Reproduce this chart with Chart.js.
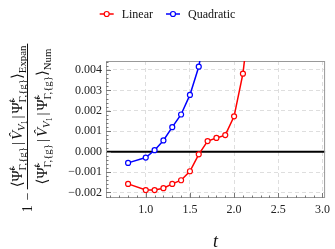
<!DOCTYPE html>
<html>
<head>
<meta charset="utf-8">
<script src="https://cdn.jsdelivr.net/npm/chart.js@4.4.1/dist/chart.umd.min.js"></script>
<style>
  html, body { margin: 0; padding: 0; background: #fff; }
  #wrap { width: 335px; height: 249px; }
</style>
</head>
<body>
<div id="wrap"><canvas id="chart"></canvas></div>
<script>
// values
var linearT = [0.8, 1.0, 1.1, 1.2, 1.3, 1.4, 1.5, 1.6, 1.7, 1.8, 1.9, 2.0, 2.1, 2.2];
var linearValues = [-0.00158, -0.00188, -0.00188, -0.00179, -0.00158, -0.0014, -0.00096,
                    -0.00013, 0.00052, 0.00067, 0.00081, 0.00173, 0.00382, 0.0075];
var quadraticT = [0.8, 1.0, 1.1, 1.2, 1.3, 1.4, 1.5, 1.6, 1.7];
var quadraticValues = [-0.00055, -0.00029, 0.00007, 0.00055, 0.0012, 0.00182, 0.00278, 0.00416, 0.0065];
var xTicks = [1.0, 1.5, 2.0, 2.5, 3.0];
var yTicks = [-0.002, -0.001, 0, 0.001, 0.002, 0.003, 0.004];
var xTitle = 't';

var serif = '"Liberation Serif", "DejaVu Serif", serif';

function toPoints(xs, ys) {
    return xs.map(function (x, i) { return { x: x, y: ys[i] }; });
}

// little helpers to draw text runs with sub/superscripts
function runFont(r) { return (r.italic ? 'italic ' : '') + r.size + 'px ' + serif; }
function runsWidth(ctx, runs) {
    var w = 0;
    runs.forEach(function (r) {
        if (r.stack) {
            var m = 0;
            r.stack.forEach(function (s) { ctx.font = runFont(s); m = Math.max(m, ctx.measureText(s.t).width); });
            w += m;
        } else if (r.gap) {
            w += r.gap;
        } else {
            ctx.font = runFont(r);
            w += ctx.measureText(r.t).width;
        }
    });
    return w;
}
function drawRuns(ctx, runs, x, y) {
    runs.forEach(function (r) {
        if (r.stack) {
            var m = 0;
            r.stack.forEach(function (s) {
                ctx.font = runFont(s);
                ctx.fillText(s.t, x, y + (s.dy || 0));
                m = Math.max(m, ctx.measureText(s.t).width);
            });
            x += m;
        } else if (r.gap) {
            x += r.gap;
        } else {
            ctx.font = runFont(r);
            ctx.fillText(r.t, x, y + (r.dy || 0));
            x += ctx.measureText(r.t).width;
        }
    });
}
function braKet(tail) {
    var M = 15, S = 10.8;
    var psi = [{ t: '\u03A8\u0303', size: M },
               { stack: [{ t: 't', size: S, italic: true, dy: -7 }, { t: '\u0393,{g}', size: S, dy: 4 }] }];
    return [{ t: '\u27E8', size: M }].concat(psi,
        [{ gap: 2 }, { t: '|', size: M }, { gap: 2 },
         { t: 'V\u0302', size: M, italic: true }, { t: 'V', size: S, italic: true, dy: 3 }, { t: '1', size: 7.5, dy: 5 },
         { gap: 2 }, { t: '|', size: M }, { gap: 2 }],
        psi, [{ t: '\u27E9', size: M }, { t: tail, size: S, dy: 4 }]);
}

var decorPlugin = {
    id: 'decor',
    beforeDatasetsDraw: function (chart) {
        var ctx = chart.ctx, a = chart.chartArea;
        var xs = chart.scales.x, ys = chart.scales.y;
        ctx.save();
        // zero line
        var y0 = ys.getPixelForValue(0);
        ctx.strokeStyle = '#000';
        ctx.lineWidth = 2;
        ctx.beginPath(); ctx.moveTo(a.left, y0); ctx.lineTo(a.right, y0); ctx.stroke();
        // frame
        ctx.strokeStyle = '#999';
        ctx.lineWidth = 1;
        ctx.strokeRect(a.left + 0.5, a.top + 0.5, a.right - a.left - 1, a.bottom - a.top - 1);
        // inward ticks
        ctx.strokeStyle = '#777';
        ctx.beginPath();
        for (var i = 6; i <= 30; i++) {
            var px = Math.round(xs.getPixelForValue(i / 10)) + 0.5;
            var len = (i % 5 === 0) ? 5 : 2.5;
            ctx.moveTo(px, a.bottom); ctx.lineTo(px, a.bottom - len);
        }
        for (var j = -11; j <= 22; j++) {
            var py = Math.round(ys.getPixelForValue(j * 0.0002)) + 0.5;
            var ln = (j % 5 === 0) ? 5 : 2.5;
            ctx.moveTo(a.left, py); ctx.lineTo(a.left + ln, py);
        }
        ctx.stroke();
        ctx.restore();
    },
    afterDraw: function (chart) {
        var ctx = chart.ctx, a = chart.chartArea;
        ctx.save();
        ctx.fillStyle = '#111';

        // legend
        var sets = chart.data.datasets;
        ctx.font = '12px ' + serif;
        var total = 0;
        sets.forEach(function (d, i) { total += 22 + ctx.measureText(d.label).width + (i ? 13 : 0); });
        var x = 167.5 - total / 2, y = 14;
        sets.forEach(function (d) {
            ctx.strokeStyle = d.borderColor;
            ctx.lineWidth = 1.5;
            ctx.beginPath(); ctx.moveTo(x, y); ctx.lineTo(x + 14, y); ctx.stroke();
            ctx.fillStyle = '#fff';
            ctx.lineWidth = 1.2;
            ctx.beginPath(); ctx.arc(x + 7, y, 2.5, 0, Math.PI * 2); ctx.fill(); ctx.stroke();
            ctx.fillStyle = '#111';
            ctx.font = '12px ' + serif;
            ctx.textBaseline = 'middle';
            ctx.fillText(d.label, x + 22, y + 1);
            x += 22 + ctx.measureText(d.label).width + 13;
        });

        // x-axis title
        ctx.font = 'italic 18px ' + serif;
        ctx.textAlign = 'center';
        ctx.textBaseline = 'alphabetic';
        ctx.fillText(xTitle, (a.left + a.right) / 2, 247);
        ctx.textAlign = 'left';

        // y-axis title, rotated fraction
        ctx.translate(27.5, 116.5);
        ctx.rotate(-Math.PI / 2);
        var num = braKet('Expan'), den = braKet('Num');
        var wn = runsWidth(ctx, num), wd = runsWidth(ctx, den);
        var half = Math.max(wn, wd) / 2 + 2;
        ctx.strokeStyle = '#111';
        ctx.lineWidth = 1;
        ctx.beginPath(); ctx.moveTo(-half, 0); ctx.lineTo(half, 0); ctx.stroke();
        drawRuns(ctx, num, -wn / 2, -6);
        drawRuns(ctx, den, -wd / 2, 19);
        var one = [{ t: '1', size: 14 }, { gap: 5 }, { t: '\u2212', size: 14 }, { gap: 3 }];
        drawRuns(ctx, one, -half - runsWidth(ctx, one), 4.5);
        ctx.restore();
    }
};

var fmt = function (v) {
    return (v < 0 ? '\u2212' : '') + Math.abs(v).toFixed(3);
};

new Chart(document.getElementById('chart'), {
    type: 'line',
    data: {
        datasets: [{
            label: 'Linear',
            data: toPoints(linearT, linearValues),
            borderColor: '#ff0000',
            backgroundColor: '#fff',
            borderWidth: 1.5,
            pointRadius: 2.5,
            pointBorderWidth: 1.2,
            pointBackgroundColor: '#fff'
        }, {
            label: 'Quadratic',
            data: toPoints(quadraticT, quadraticValues),
            borderColor: '#0000ff',
            backgroundColor: '#fff',
            borderWidth: 1.5,
            pointRadius: 2.5,
            pointBorderWidth: 1.2,
            pointBackgroundColor: '#fff'
        }]
    },
    options: {
        responsive: true,
        maintainAspectRatio: false,
        animation: false,
        layout: { padding: { left: 0, right: 5, top: 61, bottom: 0 } },
        plugins: { legend: { display: false }, tooltip: { enabled: false } },
        scales: {
            x: {
                type: 'linear',
                min: 0.55,
                max: 3.03,
                afterBuildTicks: function (s) { s.ticks = xTicks.map(function (v) { return { value: v }; }); },
                afterFit: function (s) { s.height = 51; },
                grid: { color: '#dedede', drawTicks: false },
                border: { display: false, dash: [4, 3] },
                ticks: {
                    padding: 5,
                    color: '#222',
                    font: { family: serif, size: 12 },
                    callback: function (v) { return v.toFixed(1); }
                }
            },
            y: {
                min: -0.00227,
                max: 0.00444,
                afterBuildTicks: function (s) { s.ticks = yTicks.map(function (v) { return { value: v }; }); },
                afterFit: function (s) { s.width = 106; },
                grid: { color: '#dedede', drawTicks: false },
                border: { display: false, dash: [4, 3] },
                ticks: {
                    padding: 4,
                    color: '#222',
                    font: { family: serif, size: 12 },
                    callback: fmt
                }
            }
        }
    },
    plugins: [decorPlugin]
});
</script>
</body>
</html>
